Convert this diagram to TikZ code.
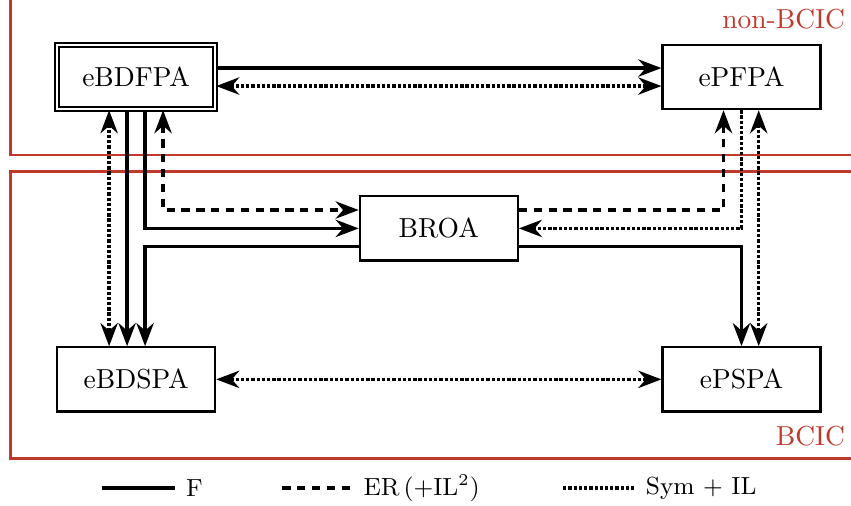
\documentclass[tikz,border=0pt]{standalone}
\usepackage{amsmath}
\usepackage{tikz}
\usetikzlibrary{arrows.meta}
\definecolor{bcicred}{RGB}{192,57,43}
\tikzset{
	box/.style={draw,thick,fill=white,minimum width=2.02cm,minimum height=0.82cm},
	fl/.style={very thick,-{Stealth}},
	er/.style={very thick,dash pattern=on 3pt off 2.4pt,-{Stealth}},
	sym/.style={very thick,dash pattern=on 1.2pt off 0.7pt,{Stealth}-{Stealth}},
	region/.style={draw=bcicred,line width=1pt},
	regionlabel/.style={anchor=base east,inner sep=0pt,text=bcicred},
	legend/.style={anchor=west,font=\small}
}

\begin{document}
\begin{tikzpicture}
	\useasboundingbox (0,0) rectangle (10.88,-6.46);
	\clip (0,0) rectangle (10.88,-6.46);

	% regions
	\draw [region] (0.13,0.5) rectangle (11.5,-1.98);
	\draw [region] (0.13,-2.19) rectangle (11.5,-5.86);
	\node [regionlabel] (nonbcic) at (10.81,-0.36) {non-BCIC};
	\node [regionlabel] (bcic) at (10.81,-5.69) {BCIC};

	% algorithms
	\node [box,double,double distance=0.7pt] (eBDFPA) at (1.74,-0.985) {eBDFPA};
	\node [box] (ePFPA) at (9.48,-0.985) {ePFPA};
	\node [box] (BROA) at (5.61,-2.92) {BROA};
	\node [box] (eBDSPA) at (1.74,-4.85) {eBDSPA};
	\node [box] (ePSPA) at (9.48,-4.85) {ePSPA};

	\draw [fl] ([yshift=0.115cm]eBDFPA.east) -- ([yshift=0.115cm]ePFPA.west);
	\draw [sym] ([yshift=-0.115cm]eBDFPA.east) -- ([yshift=-0.115cm]ePFPA.west);

	\draw [sym] ([xshift=-0.345cm]eBDFPA.south) -- ([xshift=-0.345cm]eBDSPA.north);
	\draw [fl] ([xshift=-0.115cm]eBDFPA.south) -- ([xshift=-0.115cm]eBDSPA.north);
	\draw [fl] ([xshift=0.115cm]eBDFPA.south) |- (BROA.west);
	\draw [fl] ([yshift=-0.235cm]BROA.west) -| ([xshift=0.115cm]eBDSPA.north);
	\draw [er,{Stealth}-{Stealth}] ([xshift=0.345cm]eBDFPA.south) |- ([yshift=0.235cm]BROA.west);

	\draw [er] ([yshift=0.235cm]BROA.east) -| ([xshift=-0.23cm]ePFPA.south);
	\draw [sym,-{Stealth}] (ePFPA.south) |- (BROA.east);
	\draw [fl] ([yshift=-0.235cm]BROA.east) -| (ePSPA.north);
	\draw [sym] ([xshift=0.22cm]ePFPA.south) -- ([xshift=0.22cm]ePSPA.north);

	\draw [sym] (eBDSPA.east) -- (ePSPA.west);

	% legend
	\draw [very thick] (1.30,-6.24) coordinate (legF) -- ++(0.94,0) node [legend] {F};
	\draw [very thick,dash pattern=on 3pt off 2.4pt] (3.61,-6.24) coordinate (legER) -- ++(0.90,0) node [legend] {ER\,$(+\mathrm{IL}^2)$};
	\draw [very thick,dash pattern=on 1.2pt off 0.7pt] (7.20,-6.24) coordinate (legSym) -- ++(0.92,0) node [legend] {Sym $+$ IL};
\end{tikzpicture}
\end{document}
